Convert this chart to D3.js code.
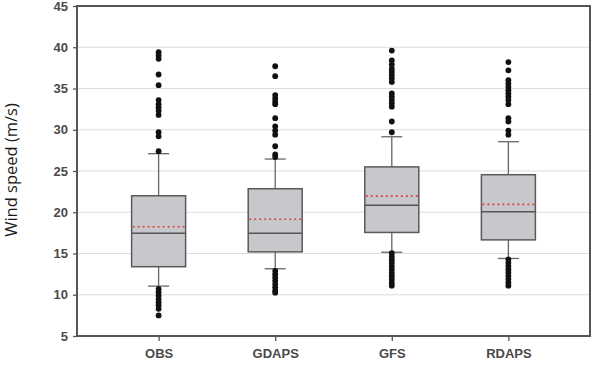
<!DOCTYPE html>
<html><head><meta charset="utf-8">
<script src="https://cdn.jsdelivr.net/npm/d3@7"></script>
<style>body{margin:0;background:#fff}svg{display:block}</style>
</head><body>
<svg id="chart" width="596" height="366"></svg>
<script>
const categories = ["OBS", "GDAPS", "GFS", "RDAPS"];
const q1 =      [13.4, 15.2, 17.55, 16.65];
const q3 =      [22.0, 22.85, 25.5, 24.55];
const medians = [17.45, 17.45, 20.85, 20.05];
const means =   [18.25, 19.15, 21.95, 20.95];
const whiskerLow =  [11.05, 13.15, 15.15, 14.4];
const whiskerHigh = [27.1, 26.45, 29.15, 28.55];
const outliers = [
  [39.4, 39.0, 38.6, 36.7, 35.4, 33.6, 33.1, 32.7, 32.3, 31.8, 29.7, 29.2, 27.4,
   10.7, 10.3, 9.9, 9.5, 9.1, 8.7, 8.3, 7.5],
  [37.7, 36.5, 34.2, 33.8, 33.4, 33.1, 31.4, 30.4, 29.9, 29.4, 28.0, 27.0, 26.7,
   12.9, 12.5, 12.1, 11.7, 11.3, 10.9, 10.5, 10.25],
  [39.6, 38.4, 37.9, 37.4, 37.0, 36.6, 36.2, 35.8, 34.4, 34.0, 33.6, 33.2, 32.8, 31.0, 29.7,
   15.05, 14.65, 14.25, 13.85, 13.45, 13.05, 12.65, 12.25, 11.85, 11.45, 11.1],
  [38.2, 37.2, 36.0, 35.6, 35.2, 34.8, 34.4, 34.0, 33.6, 33.1, 31.4, 31.0, 29.9, 29.4,
   14.3, 13.9, 13.5, 13.1, 12.7, 12.3, 11.9, 11.5, 11.1]
];
const yTicks = [5, 10, 15, 20, 25, 30, 35, 40, 45];
const yTitle = "Wind speed (m/s)";

const svg = d3.select("#chart");
const L = 77, R = 590, T = 6, B = 336;
const x = d3.scalePoint().domain(categories).range([L, R]).padding(0.7);
const y = d3.scaleLinear().domain([5, 45]).range([B, T]);
const boxW = 54, capW = 21;

svg.append("g").selectAll("line").data(yTicks.filter(t => t > 5 && t < 45)).join("line")
  .attr("x1", L).attr("x2", R).attr("y1", d => y(d)).attr("y2", d => y(d))
  .attr("stroke", "#dcdcdc").attr("stroke-width", 1.2);

const g = svg.append("g");
categories.forEach((c, i) => {
  const cx = x(c);
  g.append("line").attr("x1", cx).attr("x2", cx).attr("y1", y(q3[i])).attr("y2", y(whiskerHigh[i]))
    .attr("stroke", "#666").attr("stroke-width", 1.3);
  g.append("line").attr("x1", cx).attr("x2", cx).attr("y1", y(q1[i])).attr("y2", y(whiskerLow[i]))
    .attr("stroke", "#666").attr("stroke-width", 1.3);
  [whiskerHigh[i], whiskerLow[i]].forEach(v => {
    g.append("line").attr("x1", cx - capW / 2).attr("x2", cx + capW / 2).attr("y1", y(v)).attr("y2", y(v))
      .attr("stroke", "#666").attr("stroke-width", 1.3);
  });
  g.append("rect").attr("x", cx - boxW / 2).attr("width", boxW)
    .attr("y", y(q3[i])).attr("height", y(q1[i]) - y(q3[i]))
    .attr("fill", "#c6c8cb").attr("stroke", "#5a5a5a").attr("stroke-width", 1.5);
  g.append("line").attr("x1", cx - boxW / 2).attr("x2", cx + boxW / 2).attr("y1", y(medians[i])).attr("y2", y(medians[i]))
    .attr("stroke", "#555").attr("stroke-width", 1.5);
  g.append("line").attr("x1", cx - boxW / 2 + 1).attr("x2", cx + boxW / 2 - 1).attr("y1", y(means[i])).attr("y2", y(means[i]))
    .attr("stroke", "#e0413a").attr("stroke-width", 1.6).attr("stroke-dasharray", "2,3");
  g.selectAll(null).data(outliers[i]).join("circle")
    .attr("cx", cx).attr("cy", d => y(d)).attr("r", 2.9).attr("fill", "#111");
});

svg.append("rect").attr("x", L).attr("y", T).attr("width", R - L).attr("height", B - T)
  .attr("fill", "none").attr("stroke", "#555").attr("stroke-width", 2);

const ya = svg.append("g").attr("transform", `translate(${L},0)`)
  .call(d3.axisLeft(y).tickValues(yTicks).tickSize(4).tickPadding(5).tickFormat(d3.format("d")));
ya.select(".domain").remove();
ya.selectAll("line").attr("stroke", "#555").attr("stroke-width", 1.3);
ya.selectAll("text").attr("font-family", "Liberation Sans, Arial, sans-serif").attr("font-weight", "bold")
  .attr("font-size", 13).attr("fill", "#4a4a4a");

const xa = svg.append("g").attr("transform", `translate(0,${B})`)
  .call(d3.axisBottom(x).tickSize(5).tickPadding(8));
xa.select(".domain").remove();
xa.selectAll("line").attr("stroke", "#555").attr("stroke-width", 1.3);
xa.selectAll("text").attr("font-family", "Liberation Sans, Arial, sans-serif").attr("font-weight", "bold")
  .attr("font-size", 13).attr("fill", "#4a4a4a");

svg.append("text").attr("transform", `translate(17,170) rotate(-90)`)
  .attr("text-anchor", "middle").attr("font-family", "Open Sans, sans-serif")
  .attr("font-size", 16.5).attr("fill", "#1a1a1a").text(yTitle);
</script>
</body></html>
